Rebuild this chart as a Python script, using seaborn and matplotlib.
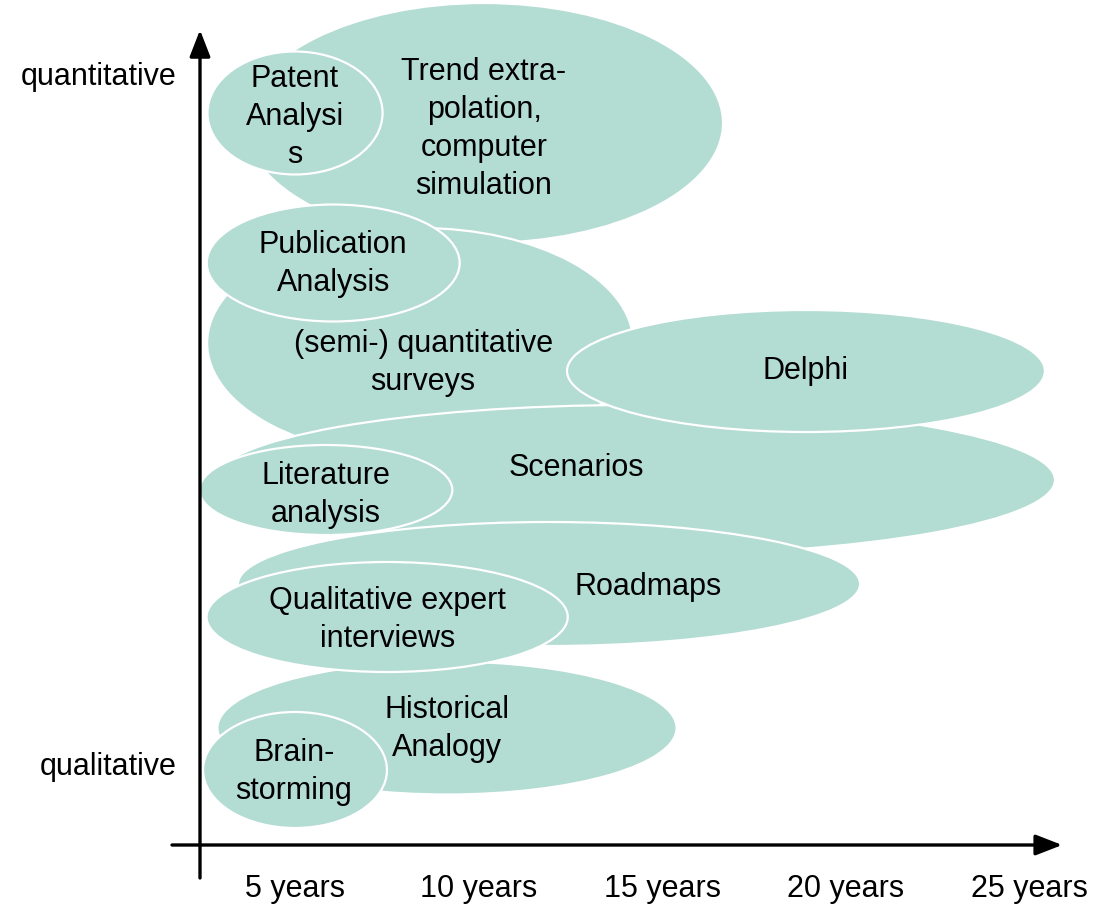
import matplotlib
matplotlib.use("Agg")
import matplotlib.pyplot as plt
from matplotlib.patches import Ellipse
import seaborn as sns

# ==========================================
# Data (x in years, y on a qualitative -> quantitative scale)
# ==========================================
METHODS = ["Trend", "Patent", "Surveys", "Publication", "Scenarios", "Delphi",
           "Literature", "Roadmaps", "Historical", "Interviews", "Brainstorming"]
LABELS = ["Trend extra-\npolation,\ncomputer\nsimulation", "Patent\nAnalysi\ns",
          "(semi-) quantitative\nsurveys", "Publication\nAnalysis", "Scenarios",
          "Delphi", "Literature\nanalysis", "Roadmaps", "Historical\nAnalogy",
          "Qualitative expert\ninterviews", "Brain-\nstorming"]
X_CENTER = [10.15, 5.00, 8.41, 6.04, 14.26, 18.92, 5.84, 11.92, 9.14, 7.51, 5.00]
Y_CENTER = [7.22, 7.32, 5.02, 5.82, 3.65, 4.74, 3.55, 2.61, 1.17, 2.28, 0.75]
X_SPAN = [13.02, 4.77, 11.61, 6.89, 22.89, 13.02, 6.89, 16.95, 12.51, 9.84, 5.01]
Y_SPAN = [2.40, 1.23, 2.30, 1.17, 1.50, 1.22, 0.90, 1.24, 1.33, 1.10, 1.16]
LABEL_X = [10.15, 5.00, 8.49, 6.04, 12.66, 18.92, 5.84, 14.62, 9.14, 7.51, 4.97]
LABEL_Y = [7.16, 7.28, 4.82, 5.81, 3.77, 4.74, 3.50, 2.58, 1.16, 2.25, 0.73]

YEAR_TICKS = [5, 10, 15, 20, 25]
YEAR_LABELS = ["5 years", "10 years", "15 years", "20 years", "25 years"]
LEVEL_TICKS = [0.82, 7.72]
LEVEL_LABELS = ["qualitative", "quantitative"]

FILL = "#b3dcd3"

sns.set_theme(style="white")
plt.rcParams["font.family"] = ["Liberation Sans", "DejaVu Sans"]

fig = plt.figure(figsize=(10.93, 9.06), dpi=100)
ax = fig.add_axes([200 / 1093, 61 / 906, 893 / 1093, 845 / 906])
ax.set_xlim(2.411, 26.74)
ax.set_ylim(0, 8.45)

for i in range(len(METHODS)):
    ax.add_patch(Ellipse((X_CENTER[i], Y_CENTER[i]), X_SPAN[i], Y_SPAN[i],
                         facecolor=FILL, edgecolor="white", lw=1.6,
                         zorder=i + 1, clip_on=False))
    ax.text(LABEL_X[i], LABEL_Y[i], LABELS[i], ha="center", va="center",
            fontsize=22, color="black", zorder=i + 1.5, linespacing=1.36)

# --- Axes drawn as arrows ---
for s in ax.spines.values():
    s.set_visible(False)
arrow = dict(arrowstyle="-|>,head_length=0.9,head_width=0.35", color="black",
             lw=2.4, shrinkA=0, shrinkB=0, mutation_scale=18)
ax.annotate("", xy=(2.411, 8.15), xytext=(2.411, -0.33), arrowprops=arrow,
            annotation_clip=False, zorder=20)
ax.annotate("", xy=(25.90, 0), xytext=(1.648, 0), arrowprops=arrow,
            annotation_clip=False, zorder=20)

ax.set_xticks(YEAR_TICKS)
ax.set_xticklabels(YEAR_LABELS, fontsize=22, color="black")
ax.set_yticks(LEVEL_TICKS)
ax.set_yticklabels(LEVEL_LABELS, fontsize=22, color="black")
ax.tick_params(axis="x", length=0, pad=21)
ax.tick_params(axis="y", length=0, pad=17)
ax.grid(False)

fig.savefig("out.png", dpi=100)
